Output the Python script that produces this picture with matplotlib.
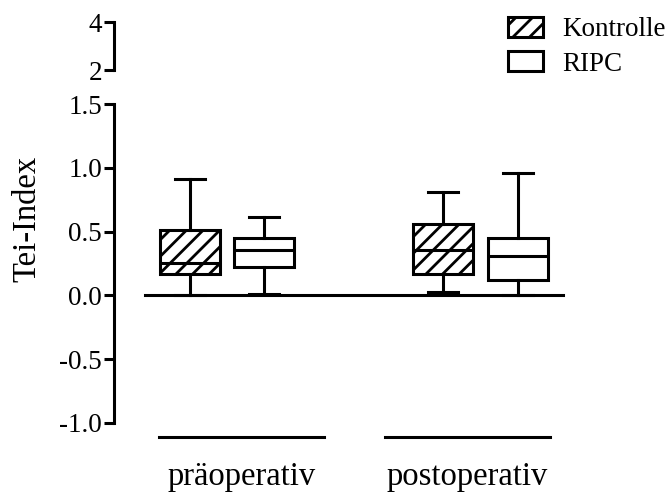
import matplotlib
matplotlib.use("Agg")
import matplotlib.pyplot as plt
from matplotlib.patches import Patch

plt.rcParams['font.family'] = ['Liberation Serif', 'DejaVu Serif']
plt.rcParams['hatch.linewidth'] = 2.0

# ---- data ----
groups = ["präoperativ", "postoperativ"]
series = ["Kontrolle", "RIPC"]
whislo = [[0.00, 0.01], [0.026, 0.00]]
q1 = [[0.17, 0.222], [0.17, 0.123]]
med = [[0.256, 0.352], [0.352, 0.305]]
q3 = [[0.509, 0.452], [0.556, 0.452]]
whishi = [[0.914, 0.613], [0.809, 0.961]]
lower_ticks = [-1.0, -0.5, 0.0, 0.5, 1.0, 1.5]
upper_ticks = [2, 4]

W, H = 669, 497
fig = plt.figure(figsize=(W / 100, H / 100), dpi=100)

def fx(p):
    return p / W

def fy(p):
    return (H - p) / H

left = fx(114)
width = 1 - left
ax = fig.add_axes([left, fy(423), width, fy(104) - fy(423)])
axt = fig.add_axes([left, fy(70), width, fy(22) - fy(70)])

unit = 253.5
x0 = 227
xlim = ((114 - x0) / unit, (669 - x0) / unit)
for a in (ax, axt):
    a.set_xlim(*xlim)
    for s in ("top", "right", "bottom"):
        a.spines[s].set_visible(False)
    a.spines["left"].set_linewidth(2.2)
    a.tick_params(axis="y", direction="out", length=7, width=2.2, labelsize=19.5, pad=1.5)
    a.set_xticks([])
    a.patch.set_alpha(0)

ax.set_ylim(-1.0, 1.5)
ax.set_yticks(lower_ticks)
ax.set_yticklabels([f"{t:.1f}" for t in lower_ticks])
axt.set_ylim(2, 4)
axt.set_yticks(upper_ticks)
axt.set_yticklabels([str(t) for t in upper_ticks])

offset = 0.146
bw = 60 / unit
lw = 2.2
for gi, g in enumerate(groups):
    for si, s in enumerate(series):
        stats = [dict(med=med[gi][si], q1=q1[gi][si], q3=q3[gi][si],
                      whislo=whislo[gi][si], whishi=whishi[gi][si], fliers=[])]
        pos = gi + (-offset if si == 0 else offset)
        bp = ax.bxp(stats, positions=[pos], widths=[bw], patch_artist=True,
                    showfliers=False, manage_ticks=False,
                    boxprops=dict(facecolor="white", edgecolor="black", linewidth=lw,
                                  hatch="//" if si == 0 else None),
                    medianprops=dict(color="black", linewidth=lw),
                    whiskerprops=dict(color="black", linewidth=lw),
                    capprops=dict(color="black", linewidth=lw))
        for art in bp["caps"] + bp["whiskers"] + bp["medians"]:
            art.set_clip_on(False)

# zero line
ax.plot([(145 - x0) / unit, (563 - x0) / unit], [0, 0], color="black", lw=lw,
        clip_on=False, zorder=1)

# group lines and labels
yline = -1.0 - (437 - 423) / 127.7
lines = [((159 - x0) / unit, (324 - x0) / unit), ((385 - x0) / unit, (550 - x0) / unit)]
for (a, b), g in zip(lines, groups):
    ax.plot([a, b], [yline, yline], color="black", lw=lw, clip_on=False)
    ax.text((a + b) / 2, -1.0 - (485 - 423) / 127.7, g, ha="center", va="baseline",
            fontsize=23.5, clip_on=False)

fig.text(fx(27), fy(219), "Tei-Index", rotation=90, ha="center", va="center", fontsize=23.5)

handles = [Patch(facecolor="white", edgecolor="black", hatch="//", linewidth=lw),
           Patch(facecolor="white", edgecolor="black", linewidth=lw)]
fig.legend(handles, series, loc="upper left", bbox_to_anchor=(fx(508), fy(17)),
           frameon=False, fontsize=19.5, borderpad=0, borderaxespad=0,
           handlelength=1.3, handleheight=0.74, handletextpad=0.69, labelspacing=0.33)

fig.savefig("out.png", dpi=100)
